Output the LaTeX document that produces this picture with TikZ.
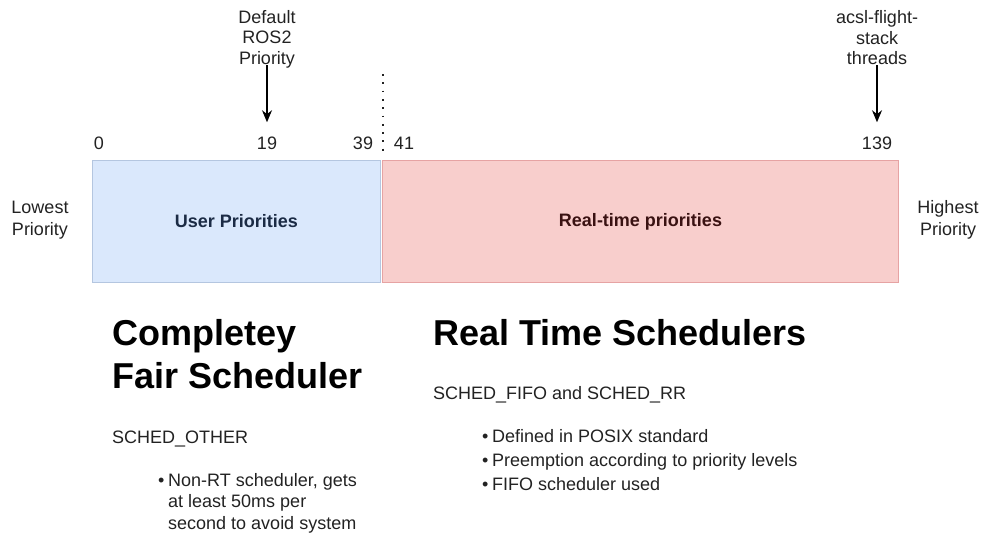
\documentclass[tikz,border=0pt]{standalone}
\usepackage{fontspec}
\setmainfont{Liberation Sans}
\usetikzlibrary{arrows.meta, positioning}
\definecolor{userfill}{HTML}{DAE8FC}
\definecolor{userline}{HTML}{B4C6E0}
\definecolor{rtfill}{HTML}{F8CECC}
\definecolor{rtline}{HTML}{E6A3A3}
\definecolor{usertext}{HTML}{1B2B45}
\definecolor{rttext}{HTML}{3A1212}
\definecolor{ink}{HTML}{222222}

\begin{document}
\begin{tikzpicture}[x=1pt, y=-1pt,
  small/.style={font=\fontsize{18}{21.5}\selectfont, inner sep=0pt, text=ink, align=center},
  band/.style={anchor=north west, minimum height=122pt, inner sep=0pt, line width=1pt,
    font=\fontsize{18}{21}\selectfont\bfseries},
  title/.style={anchor=base west, inner sep=0pt, font=\fontsize{36}{42}\selectfont\bfseries},
  body/.style={anchor=base west, inner sep=0pt, font=\fontsize{18}{21.5}\selectfont, text=ink},
  pointer/.style={-{Stealth[length=12pt, width=10pt]}, line width=1.4pt}]
  \useasboundingbox (0,0) rectangle (982,536);

  % priority bands
  \node[band, draw=userline, fill=userfill, text=usertext, minimum width=288pt] (user) at (92,160) {User Priorities};
  \node[band, draw=rtline, fill=rtfill, text=rttext, minimum width=516pt] (rt) at (382,160) {Real-time priorities};

  % scale labels
  \node[small, anchor=base] (tick0) at (99,149) {0};
  \node[small, anchor=base] (tick19) at (267,149) {19};
  \node[small, anchor=base] (tick39) at (363,149) {39};
  \node[small, anchor=base] (tick41) at (404,149) {41};
  \node[small, anchor=base] (tick139) at (877,149) {139};
  \coordinate (splittop) at (383,74);
  \coordinate (splitbot) at (383,156);
  \draw[dash pattern=on 1.8pt off 6.5pt, line width=1.6pt, ink] (splittop) -- (splitbot);

  \node[small] (lowest) at (40,220) {Lowest\\Priority};
  \node[small] (highest) at (948,220) {Highest\\Priority};

  % markers
  \node[small, anchor=south, font=\fontsize{18}{20.5}\selectfont] (ros) at (267,68) {Default\\ROS2\\Priority};
  \node[small, anchor=south, font=\fontsize{18}{20.5}\selectfont] (acsl) at (877,65) {acsl-flight-\\stack\\threads};
  \draw[pointer] ([yshift=3pt]ros.south) -- ([yshift=14pt]tick19.north);
  \draw[pointer] (acsl.south) -- ([yshift=14pt]tick139.north);

  % completely fair scheduler
  \node[title] (cfs1) at (112,345) {Completey};
  \node[title] (cfs2) at (112,388) {Fair Scheduler};
  \node[body] (cfspol) at (112,443) {SCHED\_OTHER};
  \node[body] (cfsdot) at (158,486) {\textbullet};
  \node[body, align=left] (cfsnote) at (168,529) {Non-RT scheduler, gets\\at least 50ms per\\second to avoid system};

  % real time schedulers
  \node[title] (rts) at (433,345) {Real Time Schedulers};
  \node[body] (rtspol) at (433,399) {SCHED\_FIFO and SCHED\_RR};
  \foreach \i/\txt in {0/Defined in POSIX standard, 1/Preemption according to priority levels, 2/FIFO scheduler used} {
    \node[body] (rtsdot\i) at (482,442+24*\i) {\textbullet};
    \node[body] (rtsitem\i) at (492,442+24*\i) {\txt};
  }
\end{tikzpicture}
\end{document}
